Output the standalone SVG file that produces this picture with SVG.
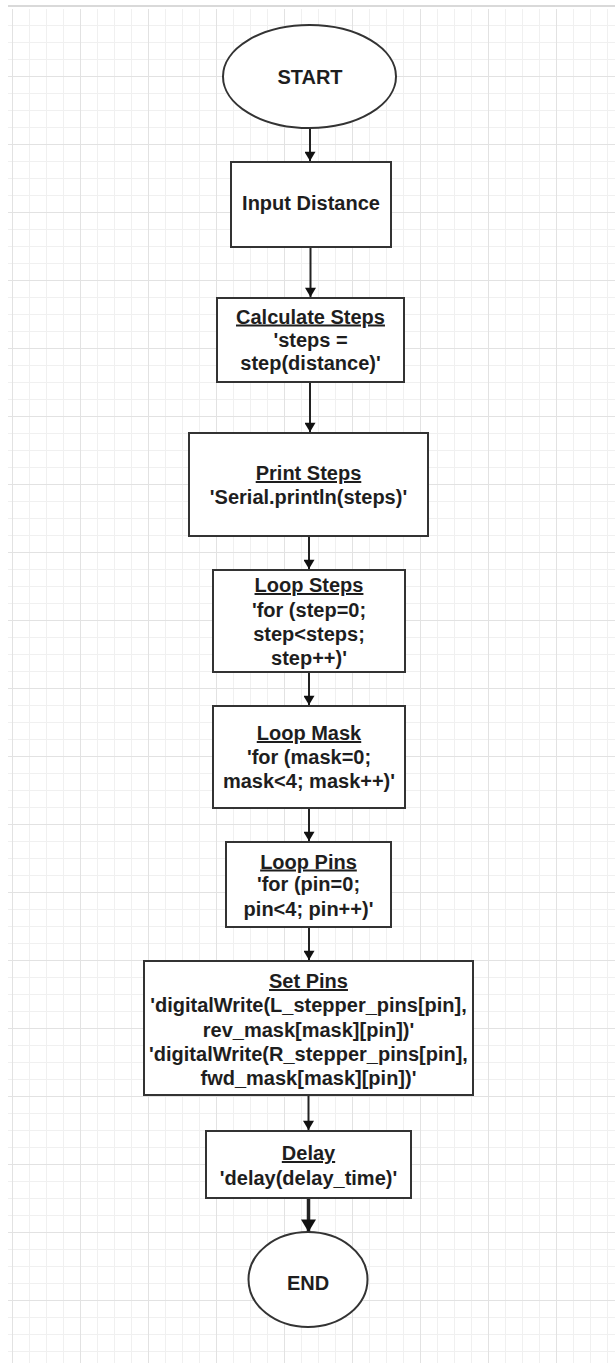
<svg xmlns="http://www.w3.org/2000/svg" width="615" height="1363" viewBox="0 0 615 1363">
  <style>
    .box { fill: #ffffff; stroke: #333333; stroke-width: 2; }
    .term { fill: #ffffff; stroke: #333333; stroke-width: 2; }
    .t { font-family: "Liberation Sans", Arial, sans-serif; font-weight: bold; font-size: 20px; fill: #1e1e1e; text-anchor: middle; }
    .u { text-decoration: underline; }
    .conn { stroke: #222222; stroke-width: 2; fill: none; }
    .conn-thick { stroke: #222222; stroke-width: 3.5; fill: none; }
  </style>
  <defs>
    <pattern id="grid" patternUnits="userSpaceOnUse" x="12" y="8" width="68" height="68">
      <rect x="0" y="0" width="68" height="68" fill="#ffffff"/>
      <rect x="17" y="0" width="1" height="68" fill="#f0f0f0"/>
      <rect x="34" y="0" width="1" height="68" fill="#f0f0f0"/>
      <rect x="51" y="0" width="1" height="68" fill="#f0f0f0"/>
      <rect x="0" y="17" width="68" height="1" fill="#f0f0f0"/>
      <rect x="0" y="34" width="68" height="1" fill="#f0f0f0"/>
      <rect x="0" y="51" width="68" height="1" fill="#f0f0f0"/>
      <rect x="0" y="0" width="1" height="68" fill="#e2e2e2"/>
      <rect x="0" y="0" width="68" height="1" fill="#e2e2e2"/>
    </pattern>
    <marker id="arr" viewBox="0 0 10 12" refX="10" refY="6" markerWidth="12" markerHeight="11" markerUnits="userSpaceOnUse" orient="auto">
      <path d="M0,0 L10,6 L0,12 Z" fill="#111111"/>
    </marker>
    <marker id="arrBig" viewBox="0 0 10 12" refX="10" refY="6" markerWidth="15" markerHeight="15" markerUnits="userSpaceOnUse" orient="auto">
      <path d="M0,0 L10,6 L0,12 Z" fill="#111111"/>
    </marker>
  </defs>

  <rect x="0" y="0" width="615" height="1363" fill="#ffffff"/>
  <rect x="8" y="9" width="607" height="1354" fill="url(#grid)"/>
  <rect x="8" y="5" width="607" height="2" fill="#d9d9d9"/>

  <g id="connectors">
    <line class="conn" x1="310" y1="128" x2="310" y2="161" marker-end="url(#arr)"/>
    <line class="conn" x1="310.5" y1="247" x2="310.5" y2="297" marker-end="url(#arr)"/>
    <line class="conn" x1="310" y1="382" x2="310" y2="432" marker-end="url(#arr)"/>
    <line class="conn" x1="309" y1="536" x2="309" y2="569" marker-end="url(#arr)"/>
    <line class="conn" x1="309" y1="672" x2="309" y2="705" marker-end="url(#arr)"/>
    <line class="conn" x1="309" y1="808" x2="309" y2="841" marker-end="url(#arr)"/>
    <line class="conn" x1="309" y1="927" x2="309" y2="960" marker-end="url(#arr)"/>
    <line class="conn" x1="308.5" y1="1095" x2="308.5" y2="1130" marker-end="url(#arr)"/>
    <line class="conn-thick" x1="308.5" y1="1198" x2="308.5" y2="1232" marker-end="url(#arrBig)"/>
  </g>

  <g id="start">
    <ellipse class="term" cx="309.5" cy="76.5" rx="86.5" ry="51.5"/>
    <text class="t" x="310" y="83.5">START</text>
  </g>

  <g id="input-distance">
    <rect class="box" x="231" y="162" width="160" height="85"/>
    <text class="t" x="311" y="209.5">Input Distance</text>
  </g>

  <g id="calculate-steps">
    <rect class="box" x="217" y="298" width="187" height="84"/>
    <text class="t u" x="310.5" y="323.5">Calculate Steps</text>
    <text class="t" x="310.5" y="346.5">'steps =</text>
    <text class="t" x="310.5" y="370">step(distance)'</text>
  </g>

  <g id="print-steps">
    <rect class="box" x="189" y="433" width="239" height="103"/>
    <text class="t u" x="308.5" y="480">Print Steps</text>
    <text class="t" x="308.5" y="503.5">'Serial.println(steps)'</text>
  </g>

  <g id="loop-steps">
    <rect class="box" x="213" y="570" width="192" height="102"/>
    <text class="t u" x="309" y="592">Loop Steps</text>
    <text class="t" x="309" y="616.5">'for (step=0;</text>
    <text class="t" x="309" y="641">step&lt;steps;</text>
    <text class="t" x="309" y="664.5">step++)'</text>
  </g>

  <g id="loop-mask">
    <rect class="box" x="213" y="706" width="192" height="102"/>
    <text class="t u" x="309" y="740">Loop Mask</text>
    <text class="t" x="309" y="764">'for (mask=0;</text>
    <text class="t" x="309" y="787.5">mask&lt;4; mask++)'</text>
  </g>

  <g id="loop-pins">
    <rect class="box" x="226" y="842" width="165" height="85"/>
    <text class="t u" x="308.5" y="868.5">Loop Pins</text>
    <text class="t" x="308.5" y="891">'for (pin=0;</text>
    <text class="t" x="308.5" y="916">pin&lt;4; pin++)'</text>
  </g>

  <g id="set-pins">
    <rect class="box" x="144" y="961" width="329" height="134"/>
    <text class="t u" x="308.5" y="988">Set Pins</text>
    <text class="t" x="308.5" y="1012">'digitalWrite(L_stepper_pins[pin],</text>
    <text class="t" x="308.5" y="1036.5">rev_mask[mask][pin])'</text>
    <text class="t" x="308.5" y="1061">'digitalWrite(R_stepper_pins[pin],</text>
    <text class="t" x="308.5" y="1085">fwd_mask[mask][pin])'</text>
  </g>

  <g id="delay">
    <rect class="box" x="206" y="1131" width="205" height="67"/>
    <text class="t u" x="308.5" y="1160">Delay</text>
    <text class="t" x="308.5" y="1185">'delay(delay_time)'</text>
  </g>

  <g id="end">
    <ellipse class="term" cx="308" cy="1279.5" rx="59.5" ry="47.5"/>
    <text class="t" x="308" y="1289.5">END</text>
  </g>
</svg>
